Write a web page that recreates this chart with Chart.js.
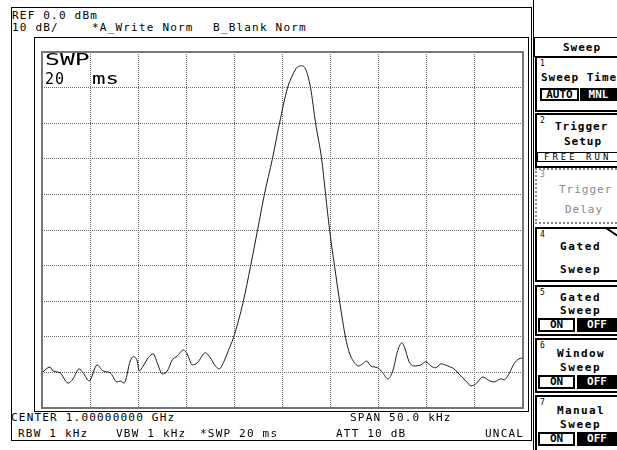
<!DOCTYPE html>
<html>
<head>
<meta charset="utf-8">
<script src="https://cdn.jsdelivr.net/npm/chart.js@4.4.0/dist/chart.umd.min.js"></script>
<style>
    body { margin: 0; width: 617px; height: 450px; background: #fff; position: relative; overflow: hidden;
        font-family: "DejaVu Sans Mono", monospace; color: #000; }
    .t { position: absolute; font-size: 11px; line-height: 11px; letter-spacing: 1.2px; white-space: pre; color: #000; }
    .big { position: absolute; font-size: 15px; line-height: 15px; white-space: pre; transform-origin: 0 0; }
    .box { position: absolute; box-sizing: border-box; }
    #trace { position: absolute; left: 42px; top: 52px; }
    .key { position: absolute; left: 535px; width: 90px; box-sizing: border-box; border: 2px solid #000; background: #fff; }
    .kt { position: absolute; font-size: 11px; line-height: 11px; letter-spacing: 1px; font-weight: bold; white-space: pre; }
    .num { position: absolute; font-size: 8px; line-height: 8px; }
    .on { position: absolute; box-sizing: border-box; border: 2px solid #000; background: #fff; font-size: 11px; font-weight: bold;
        line-height: 10px; text-align: center; }
    .off { position: absolute; box-sizing: border-box; background: #000; color: #fff; font-size: 11px; font-weight: bold;
        line-height: 14px; text-align: center; }
</style>
</head>
<body>
<!-- screen frame -->
<div class="box" style="left:11px;top:7px;width:521px;height:434px;border:1px solid #000;"></div>
<div class="box" style="left:34px;top:37px;width:495px;height:375px;border:1px solid #000;"></div>

<canvas id="trace" width="481" height="356"></canvas>
<div class="box" style="left:41px;top:51px;width:483px;height:358px;border:2px solid #777;"></div>

<div class="t" style="left:12px;top:10px;">REF 0.0 dBm</div>
<div class="t" style="left:12px;top:22px;">10 dB/</div>
<div class="t" style="left:92px;top:22px;">*A_Write Norm</div>
<div class="t" style="left:213px;top:22px;">B_Blank Norm</div>

<div class="big" style="left:45px;top:53px;transform:scaleX(1.65);">SWP</div>
<div class="big" style="left:45px;top:72px;letter-spacing:1px;">20</div>
<div class="big" style="left:92px;top:72px;transform:scaleX(1.5);">ms</div>

<div class="t" style="left:11px;top:412px;">CENTER 1.00000000 GHz</div>
<div class="t" style="left:350px;top:412px;">SPAN 50.0 kHz</div>
<div class="t" style="left:18px;top:428px;">RBW 1 kHz</div>
<div class="t" style="left:116px;top:428px;">VBW 1 kHz</div>
<div class="t" style="left:200px;top:428px;">*SWP 20 ms</div>
<div class="t" style="left:336px;top:428px;">ATT 10 dB</div>
<div class="t" style="left:485px;top:428px;">UNCAL</div>

<!-- soft key panel -->
<div class="box" style="left:533px;top:0;width:2px;height:450px;border-left:1px solid #000;"></div>
<div class="box" style="left:534px;top:37px;width:90px;height:20px;border:1px solid #000;"></div>
<div class="kt" style="left:563px;top:42px;">Sweep</div>

<div class="key" style="top:56px;height:56px;">
    <div class="num" style="left:3px;top:2px;">1</div>
    <div class="kt" style="left:4px;top:14px;">Sweep Time</div>
    <div class="on" style="left:3px;top:30px;width:39px;height:13px;">AUTO</div>
    <div class="off" style="left:43px;top:30px;width:45px;height:13px;line-height:13px;padding-right:8px;">MNL</div>
</div>
<div class="key" style="top:113px;height:55px;">
    <div class="num" style="left:3px;top:2px;">2</div>
    <div class="kt" style="left:18px;top:6px;">Trigger</div>
    <div class="kt" style="left:27px;top:21px;">Setup</div>
    <div class="box" style="left:0;top:37px;width:86px;height:10px;border:1px solid #000;font-size:9px;line-height:8px;padding-left:6px;letter-spacing:3px;">FREE RUN</div>
</div>
<div class="key" style="top:168px;height:56px;border:2px dotted #888;">
    <div class="num" style="left:3px;top:1px;color:#888;">3</div>
    <div class="kt" style="left:22px;top:14px;color:#888;font-weight:normal;">Trigger</div>
    <div class="kt" style="left:28px;top:34px;color:#888;font-weight:normal;">Delay</div>
</div>
<div class="key" style="top:227px;height:55px;">
    <div class="num" style="left:3px;top:2px;">4</div>
    <div class="kt" style="left:23px;top:12px;letter-spacing:1.6px;">Gated</div>
    <div class="kt" style="left:23px;top:35px;letter-spacing:1.6px;">Sweep</div>
    <svg style="position:absolute;left:66px;top:-2px;" width="20" height="14"><line x1="3" y1="1" x2="18" y2="11" stroke="#000" stroke-width="2"/></svg>
</div>
<div class="key" style="top:285px;height:51px;">
    <div class="num" style="left:3px;top:2px;">5</div>
    <div class="kt" style="left:23px;top:5px;letter-spacing:1.6px;">Gated</div>
    <div class="kt" style="left:23px;top:18px;letter-spacing:1.6px;">Sweep</div>
    <div class="on" style="left:1px;top:31px;width:37px;height:14px;">ON</div>
    <div class="off" style="left:40px;top:31px;width:48px;height:14px;padding-right:8px;">OFF</div>
</div>
<div class="key" style="top:338px;height:55px;">
    <div class="num" style="left:3px;top:2px;">6</div>
    <div class="kt" style="left:20px;top:8px;letter-spacing:1.4px;">Window</div>
    <div class="kt" style="left:23px;top:22px;letter-spacing:1.6px;">Sweep</div>
    <div class="on" style="left:1px;top:35px;width:37px;height:14px;">ON</div>
    <div class="off" style="left:40px;top:35px;width:48px;height:14px;padding-right:8px;">OFF</div>
</div>
<div class="key" style="top:395px;height:60px;">
    <div class="num" style="left:3px;top:2px;">7</div>
    <div class="kt" style="left:20px;top:8px;letter-spacing:1.4px;">Manual</div>
    <div class="kt" style="left:23px;top:22px;letter-spacing:1.6px;">Sweep</div>
    <div class="on" style="left:1px;top:35px;width:37px;height:14px;">ON</div>
    <div class="off" style="left:40px;top:35px;width:48px;height:14px;padding-right:8px;">OFF</div>
</div>

<script>
// trace A: frequency offset from center (kHz) and level (dBm)
const freqKHz = [
    -25.0, -24.17, -23.85, -23.13, -22.29, -21.77, -21.15, -20.73, -20.10, -19.27,
    -18.65, -17.92, -17.19, -16.88, -16.46, -15.83, -15.52, -15.10, -14.90, -14.48,
    -13.96, -13.44, -13.02, -12.50, -11.98, -11.46, -10.94, -10.31, -9.90, -9.38,
    -8.85, -8.02, -7.50, -6.98, -6.56, -6.15, -5.63, -5.10, -4.58, -4.06,
    -3.33, -2.60, -1.88, -1.04, -0.31, 0.52, 1.04, 1.56, 1.98, 2.40,
    2.92, 3.44, 4.06, 4.48, 4.90, 5.42, 5.94, 6.25, 6.56, 6.88,
    7.40, 7.92, 8.33, 8.75, 9.17, 9.90, 10.42, 10.94, 11.46, 11.98,
    12.40, 12.71, 13.13, 13.65, 14.38, 14.90, 15.42, 15.94, 16.46, 17.19,
    17.81, 18.54, 19.27, 19.58, 20.10, 20.83, 21.35, 21.98, 22.71, 23.02,
    23.54, 24.06, 24.58, 25.0
];
const levelDbm = [
    -90.1, -88.5, -89.6, -90.1, -93.0, -91.8, -89.0, -90.1, -92.4, -87.9,
    -89.6, -90.1, -92.7, -92.4, -93.0, -86.8, -85.6, -86.8, -89.6, -88.2,
    -85.9, -84.8, -87.3, -90.4, -89.6, -86.5, -85.4, -83.7, -84.8, -87.9,
    -87.3, -84.5, -85.9, -88.2, -89.0, -87.3, -83.9, -80.3, -75.5, -69.9,
    -60.3, -50.1, -40.0, -29.9, -20.0, -10.1, -6.5, -4.2, -3.9, -4.8,
    -10.1, -20.0, -29.9, -40.0, -50.1, -60.3, -70.1, -75.5, -80.3, -83.9,
    -87.0, -88.2, -87.6, -86.8, -88.2, -88.7, -90.1, -91.8, -89.6, -83.9,
    -81.7, -83.1, -86.8, -88.2, -87.9, -87.0, -88.2, -88.7, -87.6, -88.2,
    -89.0, -91.0, -93.0, -93.8, -93.2, -91.3, -92.1, -92.7, -91.8, -92.1,
    -90.4, -87.6, -86.2, -85.9
];

// screen divisions: 10 x 10
const spanKHz = [-25, 25];
const refLevel = 0;
const dbPerDiv = 10;

const points = freqKHz.map((f, i) => ({x: f, y: levelDbm[i]}));

new Chart(document.getElementById('trace'), {
    type: 'line',
    data: {
        datasets: [{
            data: points,
            borderColor: '#1a1a1a',
            borderWidth: 1,
            pointRadius: 0,
            cubicInterpolationMode: 'monotone'
        }]
    },
    options: {
        responsive: false,
        animation: false,
        layout: {padding: 0},
        plugins: {legend: {display: false}, tooltip: {enabled: false}},
        scales: {
            x: {
                type: 'linear',
                min: spanKHz[0],
                max: spanKHz[1],
                ticks: {display: false, stepSize: (spanKHz[1] - spanKHz[0]) / 10},
                grid: {color: '#666', drawTicks: false},
                border: {display: false, dash: [1, 1]}
            },
            y: {
                min: refLevel - dbPerDiv * 10,
                max: refLevel,
                ticks: {display: false, stepSize: dbPerDiv},
                grid: {color: '#666', drawTicks: false},
                border: {display: false, dash: [1, 1]}
            }
        }
    }
});
</script>
</body>
</html>
